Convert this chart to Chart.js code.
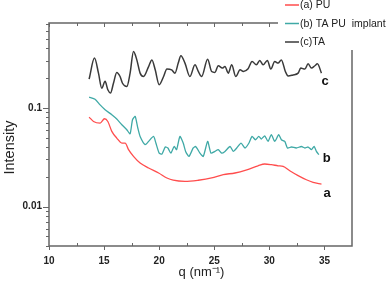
<!DOCTYPE html>
<html><head><meta charset="utf-8">
<script src="https://cdn.jsdelivr.net/npm/chart.js@4/dist/chart.umd.min.js"></script>
<style>html,body{margin:0;padding:0;background:#fff;}#wrap{position:relative;width:387px;height:287px;}</style>
</head><body><div id="wrap"><canvas id="c" width="387" height="287"></canvas></div>
<script>
const seriesNames = ['(a) PU', '(b) TA PU  implant', '(c)TA'];
const curveLetters = ['a', 'b', 'c'];
const xTitle = 'q (nm\u207B\u00B9)';
const yTitle = 'Intensity';

const qA = [13.64,14.04,14.64,15.04,15.34,15.7,16.15,16.61,16.91,17.22,17.67,18.27,19.04,19.95,20.7,21.27,22.34,23.55,24.76,25.82,26.88,27.95,28.97,29.58,30.18,30.79,31.25,31.85,32.61,33.36,33.97,34.73];
const intensityA = [0.0805,0.0727,0.070,0.0774,0.0727,0.0577,0.0494,0.044,0.044,0.0377,0.0322,0.0276,0.0246,0.0219,0.0195,0.0185,0.018,0.0185,0.0195,0.0211,0.0219,0.0236,0.0259,0.027,0.0266,0.0259,0.0255,0.0231,0.0206,0.0187,0.0176,0.0169];

const qB = [13.64,14.18,14.64,15.09,15.7,16.15,16.61,17.06,17.36,17.58,17.82,18.06,18.27,18.73,19.04,19.49,19.7,20.0,20.25,20.55,20.79,21.06,21.36,21.58,21.88,22.18,22.4,22.7,23.09,23.31,23.7,24.0,24.4,24.7,25.06,25.36,25.67,25.97,26.43,26.73,27.04,27.43,27.79,28.15,28.43,28.73,29.04,29.27,29.58,29.88,30.18,30.49,30.85,31.09,31.4,31.64,32.0,32.45,32.91,33.22,33.52,33.82,34.06,34.27,34.49];
const intensityB = [0.128,0.122,0.107,0.0955,0.085,0.0769,0.0673,0.060,0.0546,0.0757,0.0817,0.0624,0.0513,0.0423,0.0457,0.0513,0.044,0.0348,0.034,0.0401,0.0392,0.0348,0.0406,0.0377,0.0513,0.044,0.0362,0.0322,0.0392,0.0406,0.0348,0.0322,0.0457,0.0348,0.0362,0.0377,0.0348,0.0362,0.0406,0.0362,0.0392,0.044,0.0392,0.044,0.0513,0.0475,0.0513,0.0483,0.0521,0.0457,0.0534,0.0457,0.0534,0.0475,0.0457,0.0392,0.0401,0.0392,0.0406,0.0392,0.0401,0.0377,0.0406,0.0362,0.0335];

const qC = [13.64,14.13,14.49,14.79,15.09,15.34,15.58,15.85,16.15,16.45,16.67,17.06,17.36,17.67,17.97,18.27,18.58,19.04,19.34,19.64,20.0,20.4,20.7,21.13,21.43,21.73,21.97,22.34,22.79,23.25,23.55,23.85,24.4,24.76,25.06,25.36,25.73,25.97,26.27,26.58,26.95,27.34,27.64,28.07,28.43,28.82,29.13,29.43,29.82,30.13,30.49,30.79,31.09,31.45,31.7,32.15,32.61,32.85,33.22,33.52,33.82,34.13,34.36,34.73];
const intensityC = [0.195,0.318,0.224,0.158,0.185,0.152,0.141,0.177,0.228,0.207,0.177,0.164,0.224,0.371,0.305,0.224,0.207,0.261,0.305,0.242,0.171,0.207,0.246,0.242,0.224,0.283,0.335,0.283,0.207,0.272,0.233,0.207,0.310,0.233,0.228,0.266,0.252,0.261,0.224,0.272,0.207,0.242,0.233,0.248,0.294,0.272,0.301,0.272,0.301,0.246,0.294,0.283,0.305,0.233,0.210,0.215,0.224,0.252,0.246,0.278,0.252,0.266,0.278,0.224];

const xTicks = [10, 15, 20, 25, 30, 35];
const xMinorTicks = [12.5, 17.5, 22.5, 27.5, 32.5];
const yTicks = [0.01, 0.1];
const yMinorTicks = [0.004,0.005,0.006,0.007,0.008,0.009,0.02,0.03,0.04,0.05,0.06,0.07,0.08,0.09,0.2,0.3,0.4,0.5,0.6,0.7];

const colors = ['#ff4d4d', '#3fa9a6', '#3a3a3a'];
const toPts = (xs, ys) => xs.map((x, i) => ({x: x, y: ys[i]}));

const decor = {
  id: 'decor',
  afterDraw(chart) {
    const {ctx, chartArea: a, scales: {x, y}} = chart;
    const line = (x1, y1, x2, y2) => { ctx.beginPath(); ctx.moveTo(x1, y1); ctx.lineTo(x2, y2); ctx.stroke(); };
    ctx.save();
    ctx.strokeStyle = '#666'; ctx.lineWidth = 1.5;
    ctx.beginPath();
    ctx.moveTo(a.left, a.top); ctx.lineTo(a.right, a.top); ctx.lineTo(a.right, a.bottom);
    ctx.lineTo(a.left, a.bottom); ctx.closePath(); ctx.stroke();
    ctx.lineWidth = 1;
    xTicks.forEach(v => { const p = Math.round(x.getPixelForValue(v)) + 0.5; line(p, a.bottom, p, a.bottom + 4); line(p, a.top, p, a.top + 4); });
    xMinorTicks.forEach(v => { const p = Math.round(x.getPixelForValue(v)) + 0.5; line(p, a.bottom - 3, p, a.bottom); line(p, a.top, p, a.top + 3); });
    yTicks.forEach(v => { const p = Math.round(y.getPixelForValue(v)) + 0.5; line(a.left - 6, p, a.left, p); });
    yMinorTicks.forEach(v => { const p = Math.round(y.getPixelForValue(v)) + 0.5; line(a.left - 3, p, a.left, p); });

    // legend box (covers top-right corner of frame)
    const lx = a.right - 74, ly = 0;
    ctx.fillStyle = '#fff';
    ctx.fillRect(lx, ly, chart.width - lx, a.top + 27);
    ctx.font = '10.5px "Liberation Sans", Arial, sans-serif';
    ctx.textBaseline = 'middle';
    ctx.textAlign = 'left';
    seriesNames.forEach((n, i) => {
      const cy = 5 + i * 18.5;
      ctx.strokeStyle = colors[i]; ctx.lineWidth = 1.5;
      line(lx + 7, cy, lx + 21, cy);
      ctx.fillStyle = '#222';
      ctx.fillText(n, lx + 22, cy + 0.5);
    });

    // curve letters near the ends of the curves
    const sets = chart.data.datasets;
    const offs = [[2, 13], [4, 7], [0, 12]];
    ctx.font = 'bold 13px "Liberation Sans", Arial, sans-serif';
    ctx.textBaseline = 'alphabetic';
    ctx.fillStyle = '#111';
    sets.forEach((ds, i) => {
      const last = ds.data[ds.data.length - 1];
      const px = x.getPixelForValue(last.x), py = y.getPixelForValue(last.y);
      ctx.fillText(curveLetters[i], px + offs[i][0], py + offs[i][1]);
    });

    // axis titles
    ctx.fillStyle = '#222';
    ctx.font = '14.5px "Liberation Sans", Arial, sans-serif';
    ctx.save();
    ctx.translate(13.5, (a.top + a.bottom) / 2 + 13);
    ctx.rotate(-Math.PI / 2);
    ctx.textAlign = 'center';
    ctx.fillText(yTitle, 0, 0);
    ctx.restore();
    ctx.font = '13px "Liberation Sans", Arial, sans-serif';
    ctx.textAlign = 'center';
    ctx.fillText(xTitle, (a.left + a.right) / 2 + 1, 276);
    ctx.restore();
  }
};

new Chart(document.getElementById('c'), {
  type: 'line',
  data: {
    datasets: [
      {label: seriesNames[0], data: toPts(qA, intensityA), borderColor: colors[0], borderWidth: 1.3, cubicInterpolationMode: 'monotone'},
      {label: seriesNames[1], data: toPts(qB, intensityB), borderColor: colors[1], borderWidth: 1.3, tension: 0.2},
      {label: seriesNames[2], data: toPts(qC, intensityC), borderColor: colors[2], borderWidth: 1.5, cubicInterpolationMode: 'monotone'}
    ]
  },
  options: {
    responsive: false,
    animation: false,
    devicePixelRatio: 1,
    elements: {point: {radius: 0}},
    layout: {padding: {top: 23, right: 35, left: 0, bottom: 0}},
    plugins: {legend: {display: false}, tooltip: {enabled: false}},
    scales: {
      x: {
        type: 'linear', min: 10, max: 37.5,
        grid: {display: false, drawTicks: false}, border: {display: false},
        afterBuildTicks: s => { s.ticks = xTicks.map(v => ({value: v})); },
        afterFit: s => { s.height = 41; },
        ticks: {padding: 9, color: '#222', font: {family: '"Liberation Sans", Arial, sans-serif', size: 10, weight: 'bold'}, maxRotation: 0, autoSkip: false}
      },
      y: {
        type: 'logarithmic', min: 0.004, max: 0.72,
        grid: {display: false, drawTicks: false}, border: {display: false},
        afterBuildTicks: s => { s.ticks = yTicks.map(v => ({value: v})); },
        afterFit: s => { s.width = 49; },
        ticks: {padding: 7, color: '#222', font: {family: '"Liberation Sans", Arial, sans-serif', size: 10, weight: 'bold'}, autoSkip: false, callback: v => String(v)}
      }
    }
  },
  plugins: [decor]
});
</script></body></html>
